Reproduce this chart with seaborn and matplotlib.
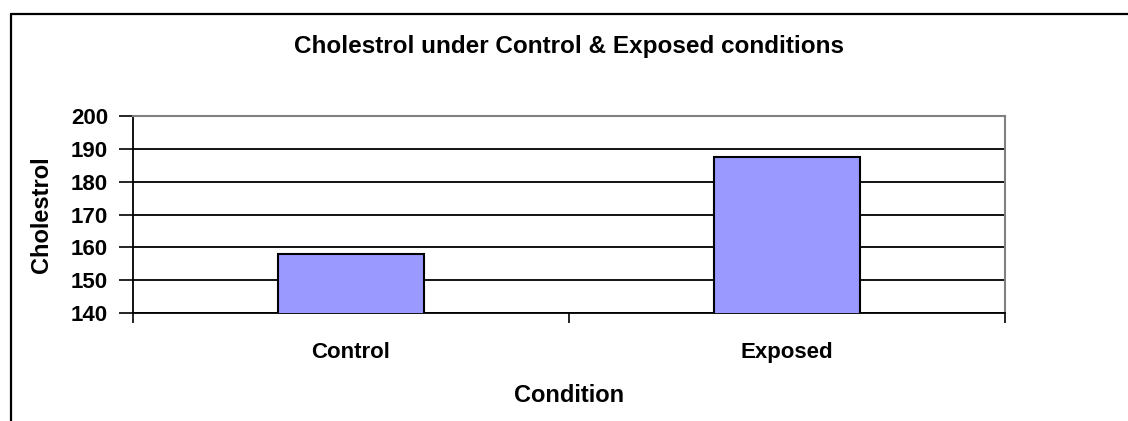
import matplotlib
matplotlib.use("Agg")
import matplotlib.pyplot as plt
import seaborn as sns
import pandas as pd
from matplotlib.lines import Line2D

conditions = ["Control", "Exposed"]
cholestrol = [158, 187.5]
y_ticks = [140, 150, 160, 170, 180, 190, 200]

df = pd.DataFrame({"Condition": conditions, "Cholestrol": cholestrol})

sns.set_style("white")
plt.rcParams["font.family"] = ["Liberation Sans", "DejaVu Sans"]
plt.rcParams["text.color"] = "black"
plt.rcParams["axes.labelcolor"] = "black"
plt.rcParams["xtick.color"] = "black"
plt.rcParams["ytick.color"] = "black"

fig = plt.figure(figsize=(11.28, 4.21), dpi=100)
ax = fig.add_axes([133 / 1128, 1 - 313 / 421, 872 / 1128, 197 / 421])

sns.barplot(data=df, x="Condition", y="Cholestrol", color="#9999FF",
            saturation=1, width=0.335, edgecolor="black", linewidth=1.5,
            ax=ax, zorder=3)

ax.set_xlim(-0.5, 1.5)
ax.set_ylim(140, 200)
ax.set_yticks(y_ticks)
ax.yaxis.grid(True, color="black", linewidth=1.3, zorder=0)
ax.set_axisbelow(True)

# x tick marks sit between categories, labels at centres
ax.set_xticks([-0.5, 0.5, 1.5], minor=True)
ax.tick_params(axis="x", which="minor", bottom=True, direction="out", length=7, width=1.2)
ax.tick_params(axis="x", which="major", bottom=True, length=0, pad=21, labelsize=16)
ax.tick_params(axis="y", left=True, direction="out", length=10, width=1.2, pad=8, labelsize=16)
for lab in ax.get_xticklabels() + ax.get_yticklabels():
    lab.set_fontweight("bold")

for s in ["left", "bottom"]:
    ax.spines[s].set_color("black")
    ax.spines[s].set_linewidth(1.3)
for s in ["top", "right"]:
    ax.spines[s].set_color("#808080")
    ax.spines[s].set_linewidth(1.5)

ax.set_xlabel("Condition", fontsize=17, fontweight="bold")
ax.set_ylabel("Cholestrol", fontsize=17, fontweight="bold")
ax.xaxis.set_label_coords(0.5, -0.36)
ax.yaxis.set_label_coords(-0.092, 0.5)
ax.set_title("Cholestrol under Control & Exposed conditions", fontsize=17.5,
             fontweight="bold", y=1.28)

# outer chart frame (left and top edges visible)
fig.add_artist(Line2D([11 / 1128, 11 / 1128], [0, 1 - 14 / 421], color="black",
                      linewidth=1.6, transform=fig.transFigure))
fig.add_artist(Line2D([11 / 1128, 1], [1 - 14 / 421, 1 - 14 / 421], color="black",
                      linewidth=1.6, transform=fig.transFigure))

fig.savefig("out.png", dpi=100)
